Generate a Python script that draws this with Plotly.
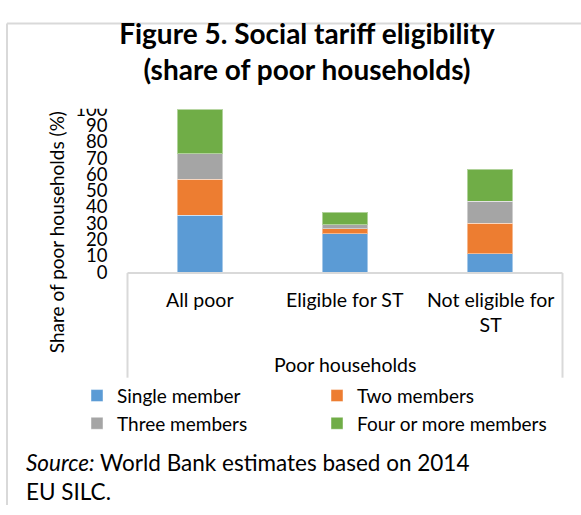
import plotly.graph_objects as go

W, H = 581, 515

categories = ["All poor", "Eligible for ST", "Not eligible for<br>ST"]
series_names = ["Single member", "Two members", "Three members", "Four or more members"]
single_member = [35.0, 23.5, 11.4]
two_members = [22.0, 3.2, 18.6]
three_members = [15.6, 2.5, 13.4]
four_or_more = [27.4, 7.7, 19.8]
colors = ["#5B9BD5", "#ED7D31", "#A5A5A5", "#70AD47"]
y_ticks = [0, 10, 20, 30, 40, 50, 60, 70, 80, 90, 100]

FONT = "Lato"

def px(x):
    return x / W

def py(y):
    return 1 - y / H

fig = go.Figure()
for name, vals, col in zip(series_names,
                           [single_member, two_members, three_members, four_or_more],
                           colors):
    fig.add_trace(go.Bar(
        x=categories, y=vals, name=name,
        marker=dict(color=col, line=dict(color="rgba(255,255,255,0.45)", width=1)),
        width=0.317,
    ))

plot_l, plot_r, plot_t, plot_b = 127.5, 562.5, 101.7, 271.7

fig.update_layout(
    width=W, height=H,
    margin=dict(l=0, r=0, t=0, b=0),
    paper_bgcolor="white", plot_bgcolor="white",
    barmode="stack",
    font=dict(family=FONT, color="#000000"),
    title=dict(
        text="<b>Figure 5. Social tariff eligibility<br>(share of poor households)</b>",
        x=px(307), xanchor="center", y=py(44), yanchor="middle",
        font=dict(size=28, family=FONT, color="#000000"),
    ),
    xaxis=dict(
        domain=[px(plot_l), px(plot_r)],
        showticklabels=False, showgrid=False, zeroline=False, showline=False,
        ticks="",
    ),
    yaxis=dict(
        domain=[py(plot_b), py(plot_t)],
        range=[0, 100], tickvals=y_ticks, ticktext=[str(t) for t in y_ticks],
        showgrid=False, zeroline=False, showline=False, ticks="",
        tickfont=dict(size=18.5, family=FONT, color="#000000"),
        ticklabelstandoff=19,
    ),
    showlegend=True,
    legend=dict(
        orientation="h", x=px(77), xanchor="left", y=py(381), yanchor="top",
        entrywidth=195, entrywidthmode="pixels",
        font=dict(size=19, family=FONT, color="#000000"),
        itemwidth=30, traceorder="normal", tracegroupgap=0,
        bgcolor="rgba(0,0,0,0)",
    ),
    bargap=0.683,
)

# category labels under the bars (on the x scale)
for cat in categories:
    fig.add_annotation(x=cat, xref="x", y=py(300), yref="paper", text=cat,
                       showarrow=False, yanchor="middle",
                       font=dict(size=19.5, family=FONT), align="center",
                       yshift=0 if "<br>" not in cat else -13)

fig.add_annotation(x=px(345), y=py(368), xref="paper", yref="paper",
                   text="Poor households", showarrow=False,
                   xanchor="center", yanchor="middle",
                   font=dict(size=19.5, family=FONT))

fig.add_annotation(x=px(56), y=py(230), xref="paper", yref="paper",
                   text="Share of poor households (%)", textangle=-90,
                   showarrow=False, xanchor="center", yanchor="middle",
                   font=dict(size=19, family=FONT))

fig.add_annotation(x=px(24), y=py(486), xref="paper", yref="paper",
                   text="<i>Source:</i> World Bank estimates based on 2014<br>EU SILC.",
                   showarrow=False, xanchor="left", yanchor="middle", align="left",
                   font=dict(size=22.5, family=FONT))

frame = "#D9D9D9"
shapes = [
    # outer frame
    dict(type="line", x0=px(7), x1=1.0, y0=py(12), y1=py(12)),
    dict(type="line", x0=px(7), x1=px(7), y0=py(12), y1=0.0),
    # category box
    dict(type="line", x0=px(plot_l), x1=px(plot_r), y0=py(plot_b + 1), y1=py(plot_b + 1)),
    dict(type="line", x0=px(plot_l), x1=px(plot_l), y0=py(plot_b + 1), y1=py(382)),
    dict(type="line", x0=px(plot_r), x1=px(plot_r), y0=py(plot_b + 1), y1=py(382)),
]
for s in shapes:
    s.update(xref="paper", yref="paper", line=dict(color=frame, width=2), layer="above")
    fig.add_shape(**s)

# clip the top of the "100" tick label like the original plot area
fig.add_shape(type="rect", xref="paper", yref="paper",
              x0=px(75), x1=px(125), y0=py(101), y1=py(85),
              fillcolor="white", line=dict(width=0), layer="above")

fig.write_html("out.html")
